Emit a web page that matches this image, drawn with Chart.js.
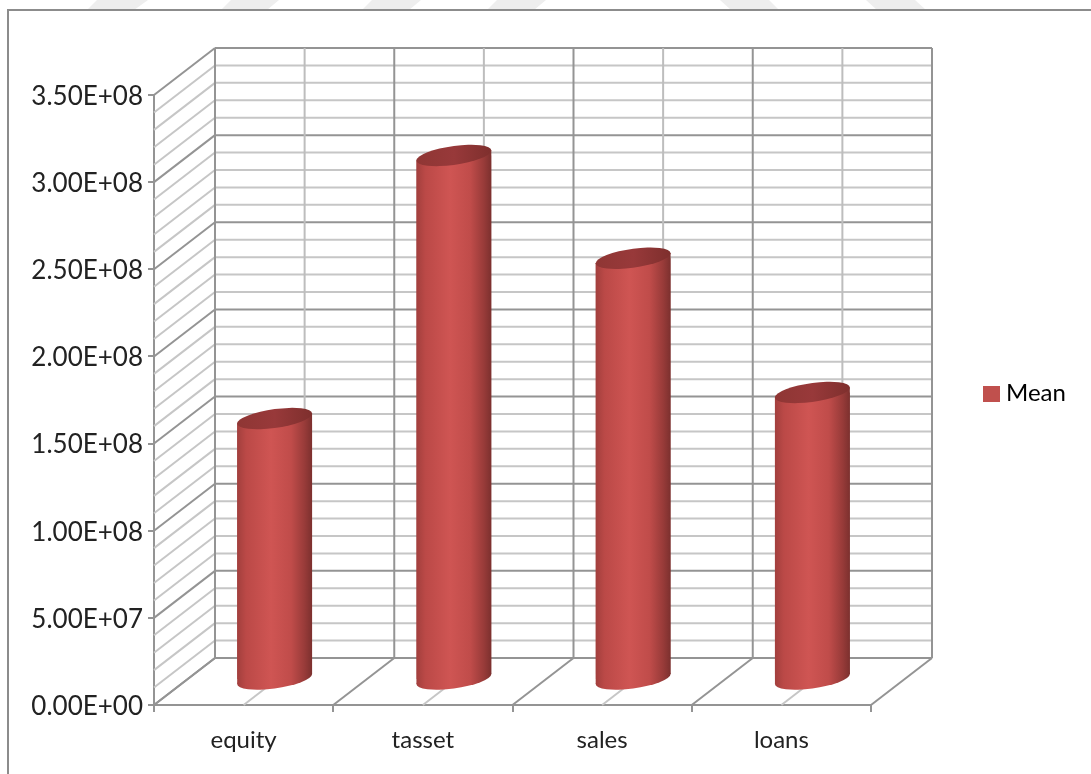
<!DOCTYPE html>
<html>
<head>
<meta charset="utf-8">
<style>
html,body{margin:0;padding:0;background:#fff;width:1091px;height:774px;overflow:hidden}
#frame{position:absolute;left:7px;top:9px;right:-5px;bottom:-5px;border:2px solid #8c8c8c;background:#fff}
#marks{position:absolute;left:0;top:0}
canvas{position:absolute;left:0;top:0}
</style>
<script src="https://cdn.jsdelivr.net/npm/chart.js@4/dist/chart.umd.min.js"></script>
</head>
<body>
<svg id="marks" width="1091" height="12">
  <polygon fill="#eeeeee" points="97,0 148,0 134,10 87,10"/>
  <polygon fill="#eeeeee" points="231,0 279,0 267,10 221,10"/>
  <polygon fill="#eeeeee" points="372,0 421,0 409,10 362,10"/>
  <polygon fill="#eeeeee" points="497,0 546,0 534,10 487,10"/>
  <polygon fill="#eeeeee" points="720,0 769,0 779,10 731,10"/>
  <polygon fill="#eeeeee" points="866,0 915,0 926,10 877,10"/>
</svg>
<div id="frame"></div>
<canvas id="c" width="1091" height="774"></canvas>
<script>
const categories = ['equity', 'tasset', 'sales', 'loans'];
const meanValues = [1.5e8, 3.01e8, 2.42e8, 1.65e8];
const seriesName = 'Mean';
const axisMax = 3.5e8;
const majorStep = 5e7;
const minorStep = 1e7;

const DEPTH_X = 61, DEPTH_Y = -47;
const BAR_DX = 31, BAR_DY = -25;
const ELLIPSE_RY = 9.5, TILT_TAN = -5 / 37.5;
const FONT = 'Lato, "Open Sans", sans-serif';
const MAJOR = '#949494', MINOR = '#c6c6c6';

function seg(ctx, x1, y1, x2, y2, color) {
  ctx.strokeStyle = color; ctx.lineWidth = 2;
  ctx.beginPath(); ctx.moveTo(x1, y1); ctx.lineTo(x2, y2); ctx.stroke();
}
function bodyGradient(ctx, x, half) {
  const g = ctx.createLinearGradient(x - half, 0, x + half, 0);
  g.addColorStop(0, '#a23f3d');
  g.addColorStop(0.12, '#bb4947');
  g.addColorStop(0.45, '#cf5553');
  g.addColorStop(0.72, '#c04c4a');
  g.addColorStop(0.9, '#983b39');
  g.addColorStop(1, '#7c302e');
  return g;
}
function ellipsePath(ctx, x, y, half) {
  ctx.save();
  ctx.transform(1, TILT_TAN, 0, 1, x, y);
  ctx.beginPath();
  ctx.ellipse(0, 0, half, ELLIPSE_RY, 0, 0, Math.PI * 2);
  ctx.restore();
}
function silhouette(ctx, b) {
  const cx = b.x + BAR_DX, half = b.width / 2, t = TILT_TAN * half;
  const yt = b.y + BAR_DY, yb = b.base + BAR_DY;
  ctx.moveTo(cx - half, yt - t); ctx.lineTo(cx + half, yt + t);
  ctx.lineTo(cx + half, yb + t); ctx.lineTo(cx - half, yb - t);
  ctx.closePath();
}
function legendSwatch() {
  const s = document.createElement('canvas');
  s.width = 17; s.height = 16;
  const c = s.getContext('2d');
  c.fillStyle = '#c0504d';
  c.fillRect(0, 0, 17, 16);
  return s;
}

const scene = {
  id: 'scene',
  beforeLayout(chart) {
    const lg = chart.legend;
    if (lg && !lg._wrapped) {
      const fit = lg.fit;
      lg.fit = function () { fit.call(this); this.width = 100; };
      lg._wrapped = true;
    }
  },
  afterLayout(chart) {
    const lg = chart.legend;
    lg.left = 979; lg.right = 1089;
    lg.top -= 41; lg.bottom -= 41;
  },
  beforeDatasetsDraw(chart) {
    const { ctx, scales: { x, y } } = chart;
    const left = x.left, right = x.right;
    const catW = (right - left) / categories.length;
    ctx.save();
    for (let v = 0; v <= axisMax + 1; v += minorStep) {
      const py = y.getPixelForValue(v);
      const isMajor = Math.round(v / minorStep) % Math.round(majorStep / minorStep) === 0;
      const col = isMajor ? MAJOR : MINOR;
      seg(ctx, left + DEPTH_X, py + DEPTH_Y, right + DEPTH_X, py + DEPTH_Y, col);
      seg(ctx, left, py, left + DEPTH_X, py + DEPTH_Y, col);
    }
    const y0 = y.getPixelForValue(0), yTop = y.getPixelForValue(axisMax);
    for (let i = 0; i <= categories.length * 2; i++) {
      const px = left + i * catW / 2;
      const isMajor = i % 2 === 0;
      seg(ctx, px + DEPTH_X, yTop + DEPTH_Y, px + DEPTH_X, y0 + DEPTH_Y, isMajor ? MAJOR : '#bdbdbd');
      seg(ctx, px, y0, px + DEPTH_X, y0 + DEPTH_Y, isMajor ? MAJOR : MINOR);
    }
    const bars = chart.getDatasetMeta(0).data;
    bars.forEach(b => {
      const cx = b.x + BAR_DX, half = b.width / 2;
      ctx.fillStyle = bodyGradient(ctx, cx, half);
      ellipsePath(ctx, cx, b.base + BAR_DY, half);
      ctx.fill();
      ctx.beginPath();
      silhouette(ctx, b);
      ctx.fill();
    });
    ctx.restore();
    ctx.save();
    ctx.beginPath();
    bars.forEach(b => silhouette(ctx, b));
    ctx.clip();
    ctx.translate(BAR_DX, BAR_DY);
  },
  afterDatasetsDraw(chart) {
    const ctx = chart.ctx;
    ctx.restore();
    ctx.save();
    chart.getDatasetMeta(0).data.forEach(b => {
      const cx = b.x + BAR_DX, half = b.width / 2, yt = b.y + BAR_DY;
      const g = ctx.createLinearGradient(cx - half, 0, cx + half, 0);
      g.addColorStop(0, '#8f3634');
      g.addColorStop(0.5, '#98393a');
      g.addColorStop(1, '#7e2f2d');
      ctx.fillStyle = g;
      ellipsePath(ctx, cx, yt, half);
      ctx.fill();
    });
    ctx.restore();
  }
};

new Chart(document.getElementById('c'), {
  type: 'bar',
  data: {
    labels: categories,
    datasets: [{
      label: seriesName,
      data: meanValues,
      clip: false,
      barPercentage: 0.418,
      categoryPercentage: 1,
      borderWidth: 0,
      backgroundColor(c) {
        const ch = c.chart;
        if (c.type !== 'data' || !ch.scales.x) return '#c0504d';
        const slot = (ch.scales.x.right - ch.scales.x.left) / categories.length;
        return bodyGradient(ch.ctx, ch.scales.x.getPixelForValue(c.dataIndex), slot * 0.418 / 2);
      }
    }]
  },
  options: {
    responsive: false,
    animation: false,
    devicePixelRatio: 1,
    layout: { padding: { top: 95, right: 120, bottom: 0, left: 0 } },
    plugins: {
      title: { display: false },
      tooltip: { enabled: false },
      legend: {
        position: 'right',
        labels: {
          usePointStyle: true,
          boxWidth: 5, boxHeight: 16, padding: 10,
          color: '#222', font: { family: FONT, size: 24 },
          generateLabels: () => [{ text: seriesName, pointStyle: legendSwatch(), fillStyle: '#c0504d', lineWidth: 0, strokeStyle: '#c0504d', hidden: false, datasetIndex: 0 }]
        }
      }
    },
    scales: {
      x: {
        afterFit(s) { s.height = 69; },
        grid: { offset: true, drawOnChartArea: false, drawTicks: true, tickLength: 7, color: MAJOR, lineWidth: 2 },
        border: { color: MAJOR, width: 2 },
        ticks: { color: '#222', font: { family: FONT, size: 24 }, padding: 14, maxRotation: 0 }
      },
      y: {
        min: 0, max: axisMax,
        afterFit(s) { s.width = 154; },
        grid: { drawOnChartArea: false, drawTicks: true, tickLength: 6, color: MAJOR, lineWidth: 2 },
        border: { color: MAJOR, width: 2 },
        ticks: {
          stepSize: majorStep, color: '#222', padding: 5, labelOffset: 1.5,
          font: { family: FONT, size: 26 },
          callback: v => v.toExponential(2).toUpperCase().replace(/E\+(\d)$/, 'E+0$1')
        }
      }
    }
  },
  plugins: [scene]
});
</script>
</body>
</html>
